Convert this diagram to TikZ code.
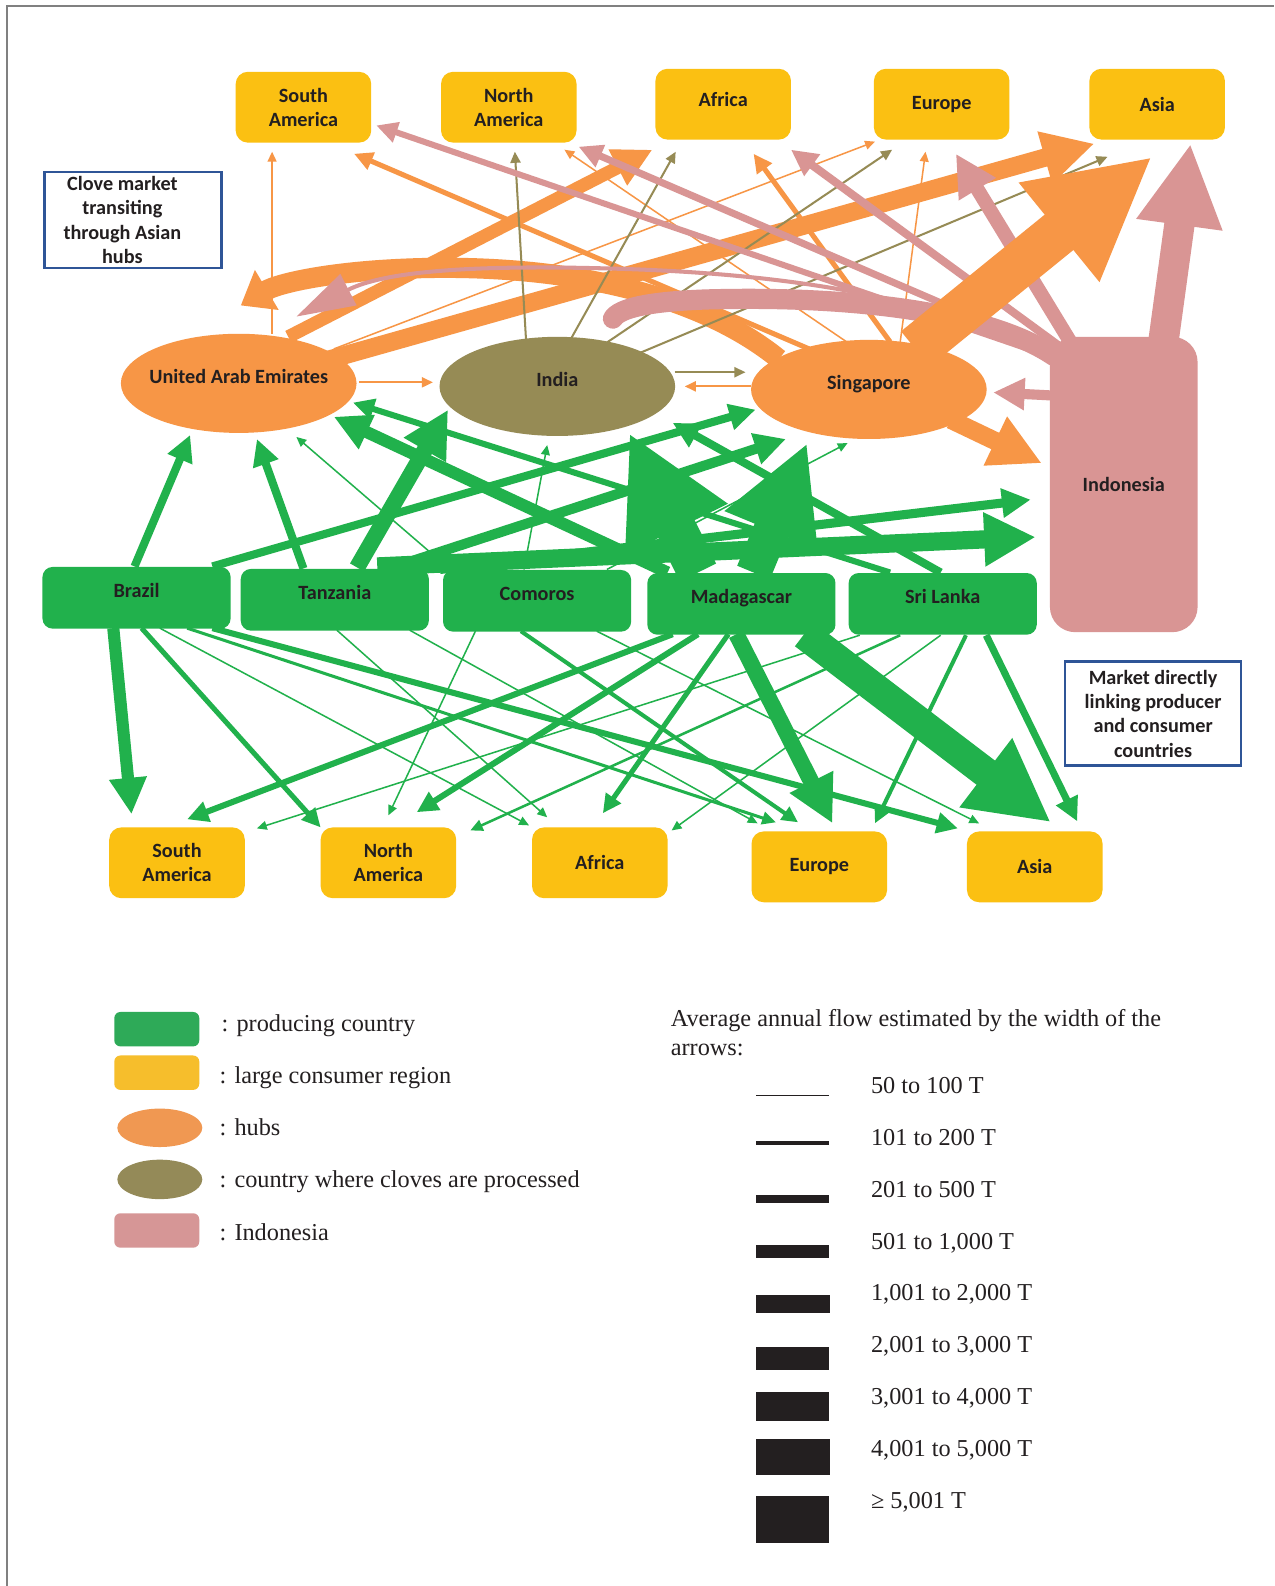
\documentclass[tikz,border=0pt]{standalone}
\usepackage{fontspec}
\setmainfont{Liberation Serif}
\newfontfamily\lblfont{Carlito}
\usetikzlibrary{arrows.meta,shapes.geometric}
\definecolor{gC}{RGB}{33,177,76}
\definecolor{yC}{RGB}{251,192,18}
\definecolor{oC}{RGB}{247,150,70}
\definecolor{vC}{RGB}{150,139,85}
\definecolor{pC}{RGB}{217,149,148}
\definecolor{bC}{RGB}{47,85,151}
\definecolor{tC}{RGB}{35,31,32}
\definecolor{lgC}{RGB}{46,170,88}
\definecolor{lyC}{RGB}{246,190,44}
\definecolor{loC}{RGB}{240,152,82}
\definecolor{lvC}{RGB}{148,138,88}
\definecolor{lpC}{RGB}{214,150,150}
\pgfdeclarelayer{back}
\pgfdeclarelayer{bg}
\pgfsetlayers{back,bg,main}
\begin{document}
\begin{tikzpicture}[x=1pt,y=-1pt,
  lab/.style={font=\lblfont\bfseries\fontsize{20}{24}\selectfont, text=tC, align=center},
  cons/.style={lab, fill=yC, rounded corners=12pt, minimum width=134pt, minimum height=70pt, inner sep=0pt},
  prod/.style={lab, fill=gC, rounded corners=10pt, minimum width=186pt, minimum height=61pt, inner sep=0pt, text height=13pt, text depth=13pt},
  hub/.style={lab, ellipse, minimum width=233pt, minimum height=98pt, inner sep=0pt, text height=13pt, text depth=13pt},
  note/.style={lab, draw=bC, line width=2.5pt, minimum width=175pt, inner sep=0pt},
  flow/.style={line width=#1pt, -{Triangle[length=6pt 2.5,width=5pt 2.5]}},
  leg/.style={font=\fontsize{24}{29}\selectfont, text=tC, anchor=base west, inner sep=0pt},
  swatch/.style={minimum width=84pt, minimum height=34pt, inner sep=0pt, rounded corners=6pt},
]
\useasboundingbox (0,0) rectangle (1260,1568);
\begin{pgfonlayer}{back}
\fill[white] (0,0) rectangle (1260,1568);
\draw[gray, line width=1.5pt] (7,1568) -- (7,6) -- (1260,6);
\end{pgfonlayer}

% top consumer regions
\node[cons] (tsa) at (300,106) {South\\America};
\node[cons] (tna) at (503,106) {North\\America};
\node[cons,text depth=10pt] (taf) at (715,103) {Africa};
\node[cons] (teu) at (931,103) {Europe};
\node[cons] (tas) at (1144,103) {Asia};

% hubs
\node[hub,fill=oC] (uae) at (236,379) {\makebox[0pt]{United Arab Emirates}};
\node[hub,fill=vC] (ind) at (551,382) {\makebox[0pt]{India}};
\node[hub,fill=oC] (sin) at (859,385) {\makebox[0pt]{Singapore}};
\node[lab,fill=pC,rounded corners=25pt,minimum width=146pt,minimum height=292pt,inner sep=0pt] (idn) at (1111,479) {Indonesia};

% producers
\node[prod] (bra) at (135,591) {Brazil};
\node[prod] (tan) at (331,593) {Tanzania};
\node[prod] (com) at (531,594) {Comoros};
\node[prod] (mad) at (733,597) {Madagascar};
\node[prod] (sri) at (932,597) {Sri Lanka};

% bottom consumer regions
\node[cons] (bsa) at (175,853) {South\\America};
\node[cons] (bna) at (384,853) {North\\America};
\node[cons] (baf) at (593,853) {Africa};
\node[cons] (beu) at (810,857) {Europe};
\node[cons] (bas) at (1023,857) {Asia};

% notes
\node[note,minimum height=95pt] (n1) at (131.5,217.5) {};
\node[lab] (n1t) at (121,217.5) {Clove market\\transiting\\through Asian\\hubs};
\node[note,minimum height=103pt,minimum width=174pt] (n2) at (1140,705.5) {Market directly\\linking producer\\and consumer\\countries};

\begin{pgfonlayer}{bg}
% orange flows from hubs
\draw[flow=1.5,oC] ([shift={(33,-49)}]uae.center) -- ([shift={(-31,44)}]tsa.center);
\draw[flow=13,oC] ([shift={(49,-46)}]uae.center) -- ([shift={(-70,45)}]taf.center);
\draw[flow=1.5,oC] ([shift={(94,-34)}]uae.center) -- ([shift={(-66,37)}]teu.center);
\draw[flow=18,oC] ([shift={(84,-22)}]uae.center) -- ([shift={(-62,39)}]tas.center);
\draw[flow=5,oC] ([shift={(-59,-40)}]sin.center) -- ([shift={(50,46)}]tsa.center);
\draw[flow=1.5,oC] ([shift={(-19,-45)}]sin.center) -- ([shift={(55,42)}]tna.center);
\draw[flow=5,oC] ([shift={(21,-47)}]sin.center) -- ([shift={(30,49)}]taf.center);
\draw[flow=1.5,oC] ([shift={(31,-47)}]sin.center) -- ([shift={(-16,47)}]teu.center);
\draw[flow=2,oC] ([shift={(-117,-3)}]sin.center) -- ([shift={(126,0)}]ind.center);
\draw[flow=2,oC] ([shift={(119,-1)}]uae.center) -- ([shift={(-123,-4)}]ind.center);
\draw[oC,line width=20pt,-{Triangle[length=30pt,width=44pt]}] ([shift={(-89,-30)}]sin.center) .. controls (690,290) and (560,262) .. (420,265) .. controls (330,267) and (275,280) .. ([shift={(2,-77)}]uae.center);

% olive flows from India
\draw[flow=2,vC] ([shift={(-31,-47)}]ind.center) -- ([shift={(6,44)}]tna.center);
\draw[flow=2,vC] ([shift={(14,-48)}]ind.center) -- ([shift={(-47,47)}]taf.center);
\draw[flow=2,vC] ([shift={(47,-42)}]ind.center) -- ([shift={(-49,45)}]teu.center);
\draw[flow=2,vC] ([shift={(79,-32)}]ind.center) -- ([shift={(-49,52)}]tas.center);
\draw[flow=2,vC] ([shift={(116,-14)}]ind.center) -- ([shift={(-122,-17)}]sin.center);

% pink flows from Indonesia
\draw[pC,line width=4pt,-{Triangle[length=58pt,width=34pt]}] ([shift={(-71,-121)}]idn.center) .. controls (950,300) and (800,272) .. (620,266) .. controls (470,261) and (380,268) .. ([shift={(57,-66)}]uae.center);
\draw[pC,line width=20pt,line cap=round] ([shift={(-69,-127)}]idn.center) .. controls (980,310) and (850,292) .. (700,296) .. controls (640,298) and (612,305) .. ([shift={(55,-67)}]ind.center);
\draw[flow=6,pC] ([shift={(-71,-126)}]idn.center) -- ([shift={(72,18)}]tsa.center);
\draw[flow=7,pC] ([shift={(-66,-130)}]idn.center) -- ([shift={(69,39)}]tna.center);
\draw[flow=8,pC] ([shift={(-61,-135)}]idn.center) -- ([shift={(67,45)}]taf.center);
\draw[flow=14,pC] ([shift={(-51,-138)}]idn.center) -- ([shift={(14,49)}]teu.center);
\draw[flow=30,pC] ([shift={(39,-140)}]idn.center) -- ([shift={(33,39)}]tas.center);
\draw[flow=10,pC] ([shift={(-51,-87)}]idn.center) -- ([shift={(123,3)}]sin.center);

\draw[flow=45,oC] ([shift={(46,-40)}]sin.center) -- ([shift={(-5,52)}]tas.center);
\draw[flow=18,oC] ([shift={(81,30)}]sin.center) -- ([shift={(-81,-21)}]idn.center);

% green flows up to hubs and Indonesia
\draw[flow=1.5,gC] ([shift={(-86,-31)}]com.center) -- ([shift={(57,53)}]uae.center);
\draw[flow=1.5,gC] ([shift={(-13,-31)}]com.center) -- ([shift={(-10,58)}]ind.center);
\draw[flow=1.5,gC] ([shift={(69,-31)}]com.center) -- ([shift={(-21,53)}]sin.center);
\draw[flow=8,gC] ([shift={(-2,-31)}]bra.center) -- ([shift={(-48,51)}]uae.center);
\draw[flow=8,gC] ([shift={(-31,-31)}]tan.center) -- ([shift={(18,55)}]uae.center);
\draw[flow=8,gC] ([shift={(75,-31)}]bra.center) -- ([shift={(-112,20)}]sin.center);
\draw[flow=10,gC] ([shift={(54,-31)}]tan.center) -- ([shift={(-82,49)}]sin.center);
\draw[flow=9,gC] ([shift={(-96,-31)}]com.center) -- ([shift={(-92,15)}]idn.center);
\draw[flow=18,gC] ([shift={(42,-33)}]tan.center) -- ([shift={(-87,52)}]idn.center);
\draw[flow=6,gC] ([shift={(-52,-31)}]sri.center) -- ([shift={(113,19)}]uae.center);
\draw[flow=8,gC] ([shift={(-2,-31)}]sri.center) -- ([shift={(114,36)}]ind.center);
\draw[flow=12,gC] ([shift={(-73,-31)}]mad.center) -- ([shift={(94,33)}]uae.center);
\draw[flow=16,gC] ([shift={(22,-32)}]tan.center) -- ([shift={(-108,23)}]ind.center);
\draw[flow=40,gC] ([shift={(-43,-31)}]mad.center) -- ([shift={(71,46)}]ind.center);
\draw[flow=35,gC] ([shift={(12,-31)}]mad.center) -- ([shift={(-61,53)}]sin.center);

% green flows down to consumer regions
\draw[flow=1.5,gC] ([shift={(23,30)}]bra.center) -- ([shift={(-70,-37)}]baf.center);
\draw[flow=1.5,gC] ([shift={(2,30)}]tan.center) -- ([shift={(-52,-45)}]baf.center);
\draw[flow=1.5,gC] ([shift={(74,30)}]tan.center) -- ([shift={(-61,-43)}]beu.center);
\draw[flow=1.5,gC] ([shift={(-61,30)}]com.center) -- ([shift={(0,-47)}]bna.center);
\draw[flow=1.5,gC] ([shift={(59,30)}]com.center) -- ([shift={(-55,-43)}]bas.center);
\draw[flow=1.5,gC] ([shift={(-82,31)}]sri.center) -- ([shift={(79,-34)}]bsa.center);
\draw[flow=2.5,gC] ([shift={(-42,31)}]sri.center) -- ([shift={(81,-32)}]bna.center);
\draw[flow=1.5,gC] ([shift={(-2,31)}]sri.center) -- ([shift={(71,-32)}]baf.center);
\draw[flow=3,gC] ([shift={(50,30)}]bra.center) -- ([shift={(-43,-44)}]beu.center);
\draw[flow=4,gC] ([shift={(-16,30)}]com.center) -- ([shift={(-21,-44)}]beu.center);
\draw[flow=4,gC] ([shift={(23,31)}]sri.center) -- ([shift={(55,-43)}]beu.center);
\draw[flow=5,gC] ([shift={(5,30)}]bra.center) -- ([shift={(-67,-35)}]bna.center);
\draw[flow=6,gC] ([shift={(75,30)}]bra.center) -- ([shift={(-76,-38)}]bas.center);
\draw[flow=6,gC] ([shift={(-68,30)}]mad.center) -- ([shift={(10,-43)}]bsa.center);
\draw[flow=6,gC] ([shift={(-43,30)}]mad.center) -- ([shift={(28,-50)}]bna.center);
\draw[flow=5,gC] ([shift={(-13,30)}]mad.center) -- ([shift={(3,-49)}]baf.center);
\draw[flow=7,gC] ([shift={(43,31)}]sri.center) -- ([shift={(42,-45)}]bas.center);
\draw[flow=12,gC] ([shift={(-23,30)}]bra.center) -- ([shift={(-45,-48)}]bsa.center);
\draw[flow=16,gC] ([shift={(-5,30)}]mad.center) -- ([shift={(13,-43)}]beu.center);
\draw[flow=30,gC] ([shift={(62,30)}]mad.center) -- ([shift={(16,-44)}]bas.center);
\end{pgfonlayer}

% legend: node types
\node[swatch,fill=lgC] (k1) at (155,1017.5) {};
\node[swatch,fill=lyC] (k2) at (155,1060.5) {};
\node[ellipse,fill=loC,minimum width=84pt,minimum height=38pt,inner sep=0pt] (k3) at (158,1115) {};
\node[ellipse,fill=lvC,minimum width=84pt,minimum height=39pt,inner sep=0pt] (k4) at (158,1166) {};
\node[swatch,fill=lpC] (k5) at (155,1216.5) {};
\node[leg] (kt1) at (219,1020) {: producing country};
\node[leg] (kt2) at (217,1071) {: large consumer region};
\node[leg] (kt3) at (217,1123) {: hubs};
\node[leg] (kt4) at (217,1174) {: country where cloves are processed};
\node[leg] (kt5) at (217,1226) {: Indonesia};

% legend: widths
\node[leg] (wt1) at (663,1015) {Average annual flow estimated by the width of the};
\node[leg] (wt2) at (663,1044) {arrows:};
\fill[tC] (747,1082.2) rectangle (820,1083.8);
\fill[tC] (747,1128.5) rectangle (820,1131.5);
\fill[tC] (747,1181) rectangle (820,1189);
\fill[tC] (747,1231) rectangle (820,1244);
\fill[tC] (747,1280) rectangle (821,1298);
\fill[tC] (747,1332) rectangle (820,1354);
\fill[tC] (747,1376) rectangle (820,1405);
\fill[tC] (747,1423) rectangle (821,1458);
\fill[tC] (747,1479) rectangle (820,1525);
\node[leg] (wl1) at (861,1081) {50 to 100 T};
\node[leg] (wl2) at (861,1132) {101 to 200 T};
\node[leg] (wl3) at (861,1184) {201 to 500 T};
\node[leg] (wl4) at (861,1235) {501 to 1,000 T};
\node[leg] (wl5) at (861,1286) {1,001 to 2,000 T};
\node[leg] (wl6) at (861,1337) {2,001 to 3,000 T};
\node[leg] (wl7) at (861,1389) {3,001 to 4,000 T};
\node[leg] (wl8) at (861,1440) {4,001 to 5,000 T};
\node[leg] (wl9) at (861,1491) {≥ 5,001 T};
\end{tikzpicture}
\end{document}
